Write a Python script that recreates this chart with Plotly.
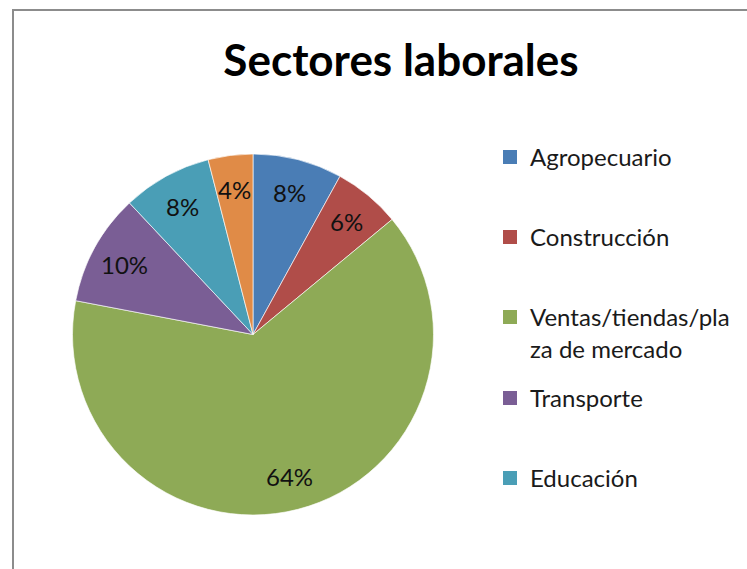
import math
import plotly.graph_objects as go

# ---- data ----
categories = ["Agropecuario", "Construcción", "Ventas/tiendas/plaza de mercado",
              "Transporte", "Educación", "Otros"]
legend_labels = ["Agropecuario", "Construcción", "Ventas/tiendas/pla<br>za de mercado",
                 "Transporte", "Educación"]
values = [8, 6, 64, 10, 8, 4]
colors = ["#4A7DB5", "#B04D49", "#8EAA56", "#7A5E95", "#4A9EB6", "#E08B47"]

# ---- layout constants ----
W, H = 747, 569
CX, CY, R = 253, 334.5, 180.5
FONT = "Lato"
LABEL_FS = 24
LEG_FS = 24
LABEL_R = 0.81
LEG_X = 490
slots = [157, 237, 317, 398, 478]

fig = go.Figure()
fig.add_trace(go.Pie(
    labels=categories, values=values, sort=False, direction="clockwise", rotation=0,
    marker=dict(colors=colors, line=dict(color="rgba(255,255,255,0.8)", width=0.8)),
    textinfo="none", hoverinfo="label+percent", showlegend=False,
    domain=dict(x=[(CX - R) / W, (CX + R) / W], y=[1 - (CY + R) / H, 1 - (CY - R) / H]),
))

# percentage labels, placed from the slice angles
total = sum(values)
cum = 0
for v in values:
    mid = (cum + v / 2) / total * 2 * math.pi
    cum += v
    px = CX + LABEL_R * R * math.sin(mid)
    py = CY - LABEL_R * R * math.cos(mid)
    fig.add_annotation(x=px / W, y=1 - py / H, xref="paper", yref="paper",
                       text=f"{round(v / total * 100)}%", showarrow=False,
                       xanchor="center", yanchor="middle",
                       font=dict(family=FONT, size=LABEL_FS, color="#111111"))

# legend entries (one legend per entry so spacing follows the original)
off = LEG_FS * 1.3 / 2 + 1.5 + 5
legends = {}
for i, lab in enumerate(legend_labels):
    name = "legend" if i == 0 else f"legend{i + 1}"
    fig.add_trace(go.Scatter(
        x=[None], y=[None], mode="markers", name=lab, legend=name,
        marker=dict(symbol="square", size=14, color=colors[i]), hoverinfo="skip",
    ))
    legends[name] = dict(x=LEG_X / W, xanchor="left", y=1 - (slots[i] - off) / H,
                         yanchor="top", valign="top", bgcolor="rgba(0,0,0,0)",
                         font=dict(family=FONT, size=LEG_FS, color="#1a1a1a"))

fig.update_layout(
    width=W, height=H, margin=dict(l=0, r=0, t=0, b=0),
    paper_bgcolor="white", plot_bgcolor="white",
    xaxis=dict(visible=False), yaxis=dict(visible=False),
    title=dict(text="<b>Sectores laborales</b>", x=401 / W, xanchor="center",
               y=1 - 61 / H, yanchor="middle",
               font=dict(family=FONT, size=44, color="#000000")),
    shapes=[dict(type="rect", xref="paper", yref="paper",
                 x0=13 / W, x1=1.05, y0=-0.05, y1=1 - 10 / H,
                 line=dict(color="#8C8C8C", width=2), fillcolor="rgba(0,0,0,0)")],
    **legends,
)

fig.write_html(
    "out.html",
    config={"displayModeBar": False},
    post_script="document.body.style.margin='0';document.body.style.overflow='hidden';",
)
